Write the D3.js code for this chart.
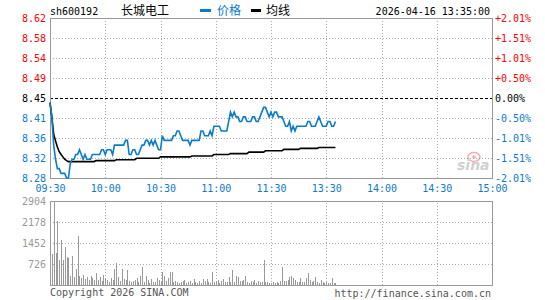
<!DOCTYPE html>
<html>
<head>
<meta charset="utf-8">
<script src="https://cdn.jsdelivr.net/npm/d3@7"></script>
<style>
  body { margin: 0; background: #fff; }
  text { font-family: "DejaVu Sans Mono", monospace; font-size: 10px; }
  .cjk { font-family: "Noto Sans CJK SC", sans-serif; font-size: 12px; }
</style>
</head>
<body>
<svg id="chart" width="545" height="300"></svg>
<script>
const stockCode = "sh600192";
const stockName = "长城电工";
const stamp = "2026-04-16 13:35:00";
const preClose = 8.45;

const priceLabels = ["8.62", "8.58", "8.54", "8.49", "8.45", "8.41", "8.36", "8.32", "8.28"];
const pctLabels = ["+2.01%", "+1.51%", "+1.01%", "+0.50%", "0.00%", "-0.50%", "-1.01%", "-1.51%", "-2.01%"];
const timeLabels = ["09:30", "10:00", "10:30", "11:00", "11:30", "13:30", "14:00", "14:30", "15:00"];
const volLabels = ["2904", "2178", "1452", "726"];
const volTicks = [2904, 2178, 1452, 726];

// one value per minute, 09:30 .. 11:30/13:00 .. 13:35
const price = [
  8.44, 8.41, 8.35, 8.32, 8.30, 8.30, 8.29, 8.29, 8.29, 8.28,
  8.28, 8.31, 8.32, 8.32, 8.33, 8.33, 8.34, 8.33, 8.32, 8.33,
  8.32, 8.32, 8.32, 8.33, 8.33, 8.33, 8.33, 8.33, 8.34, 8.34,
  8.33, 8.34, 8.34, 8.34, 8.33, 8.35, 8.35, 8.35, 8.35, 8.35,
  8.35, 8.36, 8.36, 8.33, 8.33, 8.34, 8.34, 8.33, 8.33, 8.34,
  8.35, 8.35, 8.36, 8.36, 8.35, 8.36, 8.35, 8.36, 8.35, 8.34,
  8.34, 8.37, 8.36, 8.36, 8.36, 8.36, 8.36, 8.37, 8.37, 8.38,
  8.38, 8.37, 8.36, 8.36, 8.36, 8.36, 8.35, 8.36, 8.36, 8.36,
  8.36, 8.36, 8.38, 8.38, 8.37, 8.37, 8.37, 8.38, 8.37, 8.39,
  8.39, 8.39, 8.39, 8.38, 8.38, 8.38, 8.38, 8.40, 8.42, 8.41,
  8.42, 8.41, 8.41, 8.40, 8.40, 8.41, 8.41, 8.40, 8.40, 8.40,
  8.41, 8.41, 8.40, 8.40, 8.41, 8.42, 8.43, 8.43, 8.42, 8.41,
  8.42, 8.41, 8.42, 8.42, 8.41, 8.41, 8.41, 8.40, 8.39, 8.39,
  8.40, 8.38, 8.39, 8.38, 8.39, 8.39, 8.39, 8.39, 8.39, 8.39,
  8.40, 8.40, 8.39, 8.39, 8.39, 8.40, 8.41, 8.40, 8.39, 8.39,
  8.39, 8.40, 8.40, 8.39, 8.39, 8.40
];

const avgPrice = [
  8.440, 8.410, 8.373, 8.359, 8.346, 8.336, 8.330, 8.325, 8.320, 8.317,
  8.315, 8.315, 8.315, 8.315, 8.315, 8.315, 8.315, 8.315, 8.315, 8.315,
  8.315, 8.315, 8.315, 8.315, 8.315, 8.317, 8.317, 8.317, 8.317, 8.317,
  8.317, 8.317, 8.317, 8.317, 8.317, 8.317, 8.319, 8.319, 8.319, 8.319,
  8.319, 8.319, 8.319, 8.319, 8.319, 8.319, 8.319, 8.322, 8.322, 8.322,
  8.322, 8.322, 8.322, 8.322, 8.322, 8.322, 8.322, 8.322, 8.322, 8.322,
  8.325, 8.325, 8.325, 8.325, 8.325, 8.325, 8.325, 8.325, 8.325, 8.325,
  8.325, 8.325, 8.325, 8.325, 8.325, 8.325, 8.325, 8.327, 8.327, 8.327,
  8.327, 8.327, 8.327, 8.327, 8.327, 8.327, 8.327, 8.327, 8.327, 8.330,
  8.330, 8.330, 8.330, 8.330, 8.330, 8.330, 8.330, 8.330, 8.332, 8.332,
  8.332, 8.332, 8.332, 8.332, 8.332, 8.332, 8.332, 8.332, 8.335, 8.335,
  8.335, 8.335, 8.335, 8.335, 8.335, 8.335, 8.335, 8.338, 8.338, 8.338,
  8.338, 8.338, 8.338, 8.338, 8.338, 8.338, 8.338, 8.341, 8.341, 8.341,
  8.341, 8.341, 8.341, 8.341, 8.341, 8.341, 8.343, 8.343, 8.343, 8.343,
  8.343, 8.343, 8.343, 8.343, 8.343, 8.343, 8.345, 8.345, 8.345, 8.345,
  8.345, 8.345, 8.345, 8.345, 8.345, 8.345
];

const volume = [
  260, 1070, 2904, 1120, 2200, 860, 1550, 870, 1330, 960,
  920, 320, 1000, 290, 560, 1690, 310, 240, 350, 200,
  280, 160, 300, 240, 190, 430, 170, 280, 140, 330,
  230, 160, 120, 240, 180, 540, 770, 260, 150, 550,
  200, 180, 520, 150, 90, 150, 180, 230, 120, 300,
  630, 100, 300, 170, 80, 200, 120, 90, 230, 170,
  120, 460, 300, 150, 230, 460, 460, 120, 150, 90,
  60, 110, 150, 190, 80, 100, 130, 70, 200, 90,
  70, 150, 80, 220, 130, 200, 110, 60, 460, 100,
  150, 170, 80, 150, 200, 90, 100, 270, 120, 520,
  120, 300, 270, 140, 150, 180, 300, 90, 60, 140,
  100, 170, 80, 150, 120, 90, 860, 100, 120, 60,
  80, 110, 70, 90, 60, 130, 630, 150, 140, 190,
  270, 310, 250, 180, 110, 90, 250, 120, 90, 250,
  430, 160, 90, 150, 260, 110, 80, 190, 120, 70,
  90, 60, 80, 230, 60, 70
];

const blue = "#0b7bcc";
const red = "#ff0000";
const gray = "#999";

const pLeft = 50, pRight = 492, pTop = 18, pBottom = 178, vTop = 201, vBottom = 285;
const band = 0.0201;

const svg = d3.select("#chart");

const x = d3.scaleLinear().domain([0, 240]).range([pLeft, pRight]);
const y = d3.scaleLinear().domain([preClose * (1 - band), preClose * (1 + band)]).range([pBottom, pTop]);
const yv = d3.scaleLinear().domain([0, 2904]).range([vBottom, vTop]);

const timeTicks = d3.range(9).map(k => k * 30);
const innerTime = timeTicks.slice(1, -1);
const priceTicks = d3.range(9).map(k => preClose * (1 + band * (4 - k) / 4));

// grid, price panel
const gridV = svg.append("g").attr("transform", `translate(0,${pBottom})`)
  .call(d3.axisBottom(x).tickValues(innerTime).tickSize(-(pBottom - pTop)).tickFormat(""));
const gridH = svg.append("g").attr("transform", `translate(${pLeft},0)`)
  .call(d3.axisLeft(y).tickValues(priceTicks.slice(1, -1)).tickSize(-(pRight - pLeft)).tickFormat(""));
// grid, volume panel
const gridVV = svg.append("g").attr("transform", `translate(0,${vBottom})`)
  .call(d3.axisBottom(x).tickValues(innerTime).tickSize(-(vBottom - vTop)).tickFormat(""));
const gridVH = svg.append("g").attr("transform", `translate(${pLeft},0)`)
  .call(d3.axisLeft(yv).tickValues(volTicks.slice(1)).tickSize(-(pRight - pLeft)).tickFormat(""));

[gridV, gridH, gridVV, gridVH].forEach(g => {
  g.select(".domain").remove();
  g.selectAll("line").attr("stroke", "#aaa").attr("stroke-dasharray", "1,2")
    .attr("shape-rendering", "crispEdges");
});
gridH.selectAll(".tick").filter((d, i) => i === 3).select("line")
  .attr("stroke", "#000").attr("stroke-dasharray", "3,2");

// frames
svg.append("rect").attr("x", pLeft).attr("y", pTop).attr("width", pRight - pLeft).attr("height", pBottom - pTop)
  .attr("fill", "none").attr("stroke", gray).attr("shape-rendering", "crispEdges");
svg.append("rect").attr("x", pLeft).attr("y", vTop).attr("width", pRight - pLeft).attr("height", vBottom - vTop)
  .attr("fill", "none").attr("stroke", gray).attr("shape-rendering", "crispEdges");

// sina watermark
const wm = svg.append("g").attr("opacity", 0.55);
wm.append("ellipse").attr("cx", 474).attr("cy", 157).attr("rx", 6).attr("ry", 4.5)
  .attr("fill", "none").attr("stroke", "#e07070").attr("stroke-width", 1.5);
wm.append("circle").attr("cx", 474).attr("cy", 157).attr("r", 1.8).attr("fill", "#e07070");
wm.append("text").attr("x", 457).attr("y", 170)
  .style("font-family", "DejaVu Sans, sans-serif").style("font-size", "14px")
  .style("font-style", "italic").style("font-weight", "bold")
  .attr("fill", "#aaa").text("sina");

// volume bars
svg.append("g").selectAll("rect").data(volume).join("rect")
  .attr("x", (d, i) => Math.round(x(i)))
  .attr("y", d => yv(d))
  .attr("width", 1)
  .attr("height", d => vBottom - yv(d))
  .attr("fill", gray)
  .attr("shape-rendering", "crispEdges");

// lines
const line = d3.line().x((d, i) => x(i)).y(d => y(d));
svg.append("path").datum(avgPrice).attr("d", line)
  .attr("fill", "none").attr("stroke", "#000").attr("stroke-width", 1.6);
svg.append("path").datum(price).attr("d", line)
  .attr("fill", "none").attr("stroke", blue).attr("stroke-width", 1.6);

// axes labels
const colorAt = i => i < 4 ? red : (i === 4 ? "#000" : blue);

const axL = svg.append("g").attr("transform", `translate(${pLeft},0)`)
  .call(d3.axisLeft(y).tickValues(priceTicks).tickSize(0).tickPadding(4)
    .tickFormat((d, i) => priceLabels[i]));
axL.selectAll("text").attr("fill", (d, i) => colorAt(i));

const axR = svg.append("g").attr("transform", `translate(${pRight},0)`)
  .call(d3.axisRight(y).tickValues(priceTicks).tickSize(0).tickPadding(3)
    .tickFormat((d, i) => pctLabels[i]));
axR.selectAll("text").attr("fill", (d, i) => colorAt(i));

const axB = svg.append("g").attr("transform", `translate(0,${pBottom})`)
  .call(d3.axisBottom(x).tickValues(timeTicks).tickSize(0).tickPadding(7)
    .tickFormat((d, i) => timeLabels[i]));
axB.selectAll("text").attr("fill", blue);

const axV = svg.append("g").attr("transform", `translate(${pLeft},0)`)
  .call(d3.axisLeft(yv).tickValues(volTicks).tickSize(0).tickPadding(4)
    .tickFormat((d, i) => volLabels[i]));
axV.selectAll("text").attr("fill", gray);

[axL, axR, axB, axV].forEach(g => {
  g.select(".domain").remove();
  g.selectAll("text").style("font-family", "DejaVu Sans Mono, monospace").style("font-size", "10px");
});

// header
svg.append("text").attr("x", 50).attr("y", 15).attr("fill", "#000").text(stockCode);
svg.append("text").attr("class", "cjk").attr("x", 121).attr("y", 15).attr("fill", "#000").text(stockName);
svg.append("rect").attr("x", 200).attr("y", 9).attr("width", 11).attr("height", 3).attr("fill", blue);
svg.append("text").attr("class", "cjk").attr("x", 217).attr("y", 15).attr("fill", blue).text("价格");
svg.append("rect").attr("x", 251).attr("y", 9).attr("width", 10).attr("height", 3).attr("fill", "#000");
svg.append("text").attr("class", "cjk").attr("x", 266).attr("y", 15).attr("fill", "#000").text("均线");
svg.append("text").attr("x", 490).attr("y", 15).attr("text-anchor", "end").attr("fill", "#000").text(stamp);

// footer
svg.append("text").attr("x", 50).attr("y", 296).attr("fill", "#555").text("Copyright 2026 SINA.COM");
svg.append("text").attr("x", 491).attr("y", 297).attr("text-anchor", "end").attr("fill", "#555")
  .text("http://finance.sina.com.cn");
</script>
</body>
</html>
